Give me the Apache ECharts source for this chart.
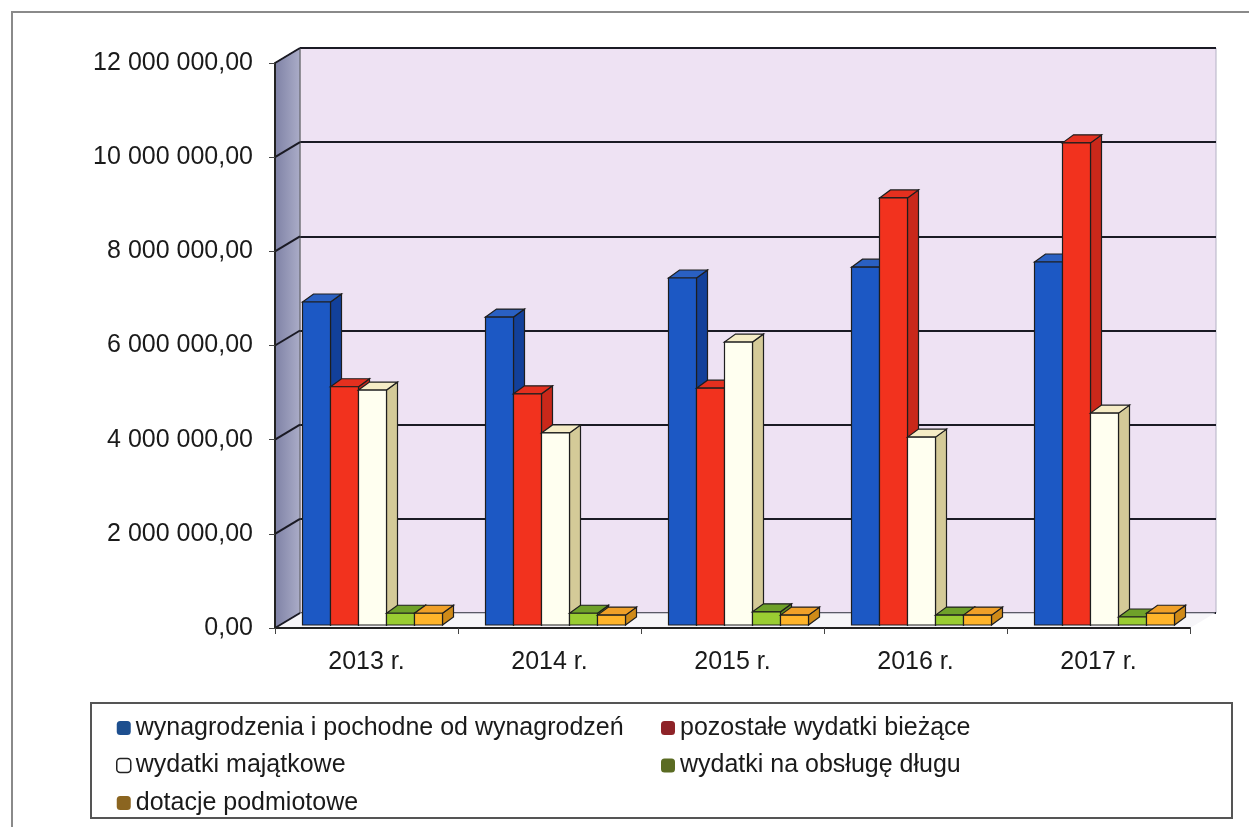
<!DOCTYPE html>
<html>
<head>
<meta charset="utf-8">
<script src="https://cdn.jsdelivr.net/npm/echarts@6/dist/echarts.min.js"></script>
<style>
  html, body { margin: 0; padding: 0; background: #fff; }
  #chart { width: 1249px; height: 827px; }
</style>
</head>
<body>
<div id="chart"></div>
<script>
// dane
var years = ['2013 r.', '2014 r.', '2015 r.', '2016 r.', '2017 r.'];
var yTicks = [0, 2000000, 4000000, 6000000, 8000000, 10000000, 12000000];
var seriesNames = [
  'wynagrodzenia i pochodne od wynagrodzeń',
  'pozostałe wydatki bieżące',
  'wydatki majątkowe',
  'wydatki na obsługę długu',
  'dotacje podmiotowe'
];
var wynagrodzenia = [6860000, 6540000, 7370000, 7600000, 7710000];
var pozostale = [5060000, 4910000, 5030000, 9070000, 10240000];
var majatkowe = [4990000, 4080000, 6010000, 3990000, 4500000];
var obslugaDlugu = [250000, 250000, 280000, 210000, 170000];
var dotacje = [250000, 210000, 210000, 210000, 250000];

var values = [wynagrodzenia, pozostale, majatkowe, obslugaDlugu, dotacje];
var legendColors = ['#1d4f8f', '#8e2328', '#ffffff', '#5a6b22', '#8b6520'];
var barColors = [
  { front: '#1c58c4', side: '#12409a', top: '#2a60c2' },
  { front: '#f2321e', side: '#c9281a', top: '#e4301f' },
  { front: '#fffff0', side: '#d4ca98', top: '#f5ecc6' },
  { front: '#9acd32', side: '#5e8e22', top: '#6fa12a' },
  { front: '#ffb42a', side: '#cf8a18', top: '#f0a028' }
];

// 3D
var WALL_DX = 25, WALL_DY = -15;
var BAR_DX = 11, BAR_DY = -8;
var SHIFT_X = 6, SHIFT_Y = 3;

function fmt(v) {
  var s = String(Math.round(v));
  return s.replace(/\B(?=(\d{3})+(?!\d))/g, ' ') + ',00';
}

function barSeries(i) {
  return {
    name: seriesNames[i],
    type: 'custom',
    xAxisIndex: 0,
    yAxisIndex: 0,
    z: 5,
    itemStyle: { color: legendColors[i] },
    data: values[i].map(function (v, k) { return [k, v]; }),
    renderItem: function (params, api) {
      var cat = api.value(0), v = api.value(1);
      var base = api.coord([cat, 0]);
      var top = api.coord([cat, v]);
      var band = api.size([1, 0])[0];
      var bw = band * 0.153;
      var x0 = base[0] - 2.5 * bw + i * bw + SHIFT_X;
      var yb = base[1] - SHIFT_Y;
      var yt = top[1] - SHIFT_Y;
      var c = barColors[i];
      var st = { stroke: '#1e1e1e', lineWidth: 1.2 };
      return {
        type: 'group',
        children: [
          { type: 'polygon', shape: { points: [[x0 + bw, yt], [x0 + bw + BAR_DX, yt + BAR_DY], [x0 + bw + BAR_DX, yb + BAR_DY], [x0 + bw, yb]] },
            style: Object.assign({ fill: c.side }, st) },
          { type: 'polygon', shape: { points: [[x0, yt], [x0 + BAR_DX, yt + BAR_DY], [x0 + bw + BAR_DX, yt + BAR_DY], [x0 + bw, yt]] },
            style: Object.assign({ fill: c.top }, st) },
          { type: 'rect', shape: { x: x0, y: yt, width: bw, height: yb - yt },
            style: Object.assign({ fill: c.front }, st) }
        ]
      };
    }
  };
}

var chart = echarts.init(document.getElementById('chart'));

var series = [{
  name: 'walls',
  type: 'custom',
  xAxisIndex: 0,
  yAxisIndex: 0,
  z: 1,
  silent: true,
  data: [[0, 0]],
  renderItem: function (params, api) {
    var cs = params.coordSys;
    var x = cs.x, y0 = cs.y + cs.height, yTop = cs.y, xr = cs.x + cs.width;
    var children = [
      { type: 'polygon', shape: { points: [[x, yTop], [x + WALL_DX, yTop + WALL_DY], [x + WALL_DX, y0 + WALL_DY], [x, y0]] },
        style: { fill: new echarts.graphic.LinearGradient(0, 0, 1, 0, [{ offset: 0, color: '#7e81a5' }, { offset: 1, color: '#abadc8' }]), stroke: '#555' } },
      { type: 'polygon', shape: { points: [[x, y0], [x + WALL_DX, y0 + WALL_DY], [xr + WALL_DX, y0 + WALL_DY], [xr, y0]] },
        style: { fill: '#f6f5f8', stroke: null } },
      { type: 'line', shape: { x1: x + WALL_DX, y1: y0 + WALL_DY, x2: xr + WALL_DX, y2: y0 + WALL_DY },
        style: { stroke: '#9a9aa8', lineWidth: 1 } }
    ];
    yTicks.forEach(function (t) {
      var p = api.coord([0, t]);
      children.push({ type: 'line', shape: { x1: x, y1: p[1], x2: x + WALL_DX, y2: p[1] + WALL_DY },
        style: { stroke: '#1a1a24', lineWidth: 2 } });
    });
    return { type: 'group', children: children };
  }
}];
for (var i = 0; i < 5; i++) series.push(barSeries(i));

var legendStyle = {
  orient: 'vertical',
  itemWidth: 14,
  itemHeight: 14,
  itemGap: 11.5,
  icon: 'roundRect',
  padding: 0,
  selectedMode: false,
  textStyle: { fontFamily: 'Liberation Sans, Arial, sans-serif', fontSize: 25, color: '#1a1a1a', lineHeight: 26 }
};
function legendItem(i) {
  var it = { name: seriesNames[i], itemStyle: { color: legendColors[i] } };
  if (i === 2) it.itemStyle = { color: '#fff', borderColor: '#222', borderWidth: 1.5 };
  return it;
}

chart.setOption({
  animation: false,
  backgroundColor: '#fff',
  grid: [
    { left: 275, top: 63, width: 915, height: 565 },
    { left: 300, top: 48, width: 916, height: 565, show: true, backgroundColor: '#eee2f3', borderColor: '#b4b2c4', borderWidth: 1 }
  ],
  xAxis: [
    { type: 'category', gridIndex: 0, data: years, z: 6,
      axisLine: { lineStyle: { color: '#222', width: 2 } },
      axisTick: { show: true, length: 6, lineStyle: { color: '#444' } },
      axisLabel: { margin: 22, fontSize: 25, color: '#1a1a1a', fontFamily: 'Liberation Sans, Arial, sans-serif' } },
    { type: 'category', gridIndex: 1, data: years, show: false }
  ],
  yAxis: [
    { type: 'value', gridIndex: 0, min: 0, max: 12000000, interval: 2000000, z: 6,
      axisLine: { show: true, lineStyle: { color: '#222', width: 2 } },
      axisTick: { show: true, length: 6, lineStyle: { color: '#444' } },
      splitLine: { show: false },
      axisLabel: { margin: 22, fontSize: 25, color: '#1a1a1a', padding: [6, 0, 0, 0], fontFamily: 'Liberation Sans, Arial, sans-serif', formatter: fmt } },
    { type: 'value', gridIndex: 1, min: 0, max: 12000000, interval: 2000000,
      axisLine: { show: false }, axisTick: { show: false }, axisLabel: { show: false },
      splitLine: { show: true, lineStyle: { color: '#1a1a24', width: 2 } } }
  ],
  legend: [
    Object.assign({ left: 116, top: 715, data: [0, 2, 4].map(legendItem) }, legendStyle),
    Object.assign({ left: 661, top: 715, data: [1, 3].map(legendItem) }, legendStyle)
  ],
  graphic: [
    { type: 'polyline', shape: { points: [[12, 827], [12, 12], [1249, 12]] }, style: { stroke: '#8a8a8a', lineWidth: 2, fill: null }, silent: true },
    { type: 'rect', shape: { x: 91, y: 703, width: 1141, height: 115 }, style: { fill: null, stroke: '#555', lineWidth: 2 }, silent: true }
  ],
  series: series
});
</script>
</body>
</html>
